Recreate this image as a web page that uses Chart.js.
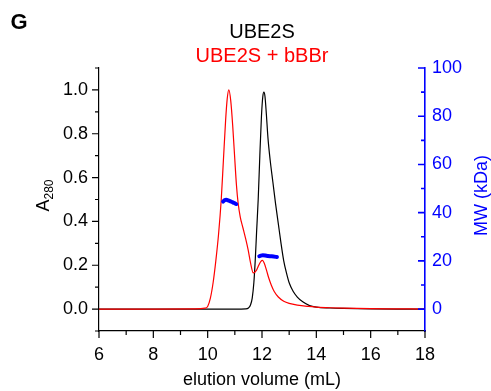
<!DOCTYPE html>
<html>
<head>
<meta charset="utf-8">
<script src="https://cdn.jsdelivr.net/npm/chart.js@4.4.1/dist/chart.umd.min.js"></script>
<style>
  html, body { margin: 0; padding: 0; background: #fff; }
  #wrap { width: 491px; height: 391px; position: relative; }
</style>
</head>
<body>
<div id="wrap"><canvas id="chart"></canvas></div>
<script>
const FONT = "'Liberation Sans', Arial, Helvetica, sans-serif";

// UBE2S (black trace)
const ube2sVolume = [6, 8, 10, 11, 11.4, 11.5, 11.58, 11.64, 11.7, 11.75, 11.8, 11.86, 11.92, 11.98, 12.03, 12.07, 12.11, 12.16, 12.22, 12.3, 12.4, 12.5, 12.6, 12.7, 12.8, 12.9, 13.0, 13.15, 13.3, 13.5, 13.75, 14.0, 14.5, 15.0, 16.0, 17.0, 18.0];
const ube2sA280 = [0, 0, 0, 0, 0.001, 0.005, 0.02, 0.05, 0.12, 0.22, 0.35, 0.5, 0.7, 0.88, 0.97, 0.99, 0.97, 0.89, 0.78, 0.68, 0.58, 0.48, 0.39, 0.3, 0.22, 0.165, 0.12, 0.08, 0.055, 0.033, 0.016, 0.009, 0.005, 0.003, 0.001, 0, 0];

// UBE2S + bBBr (red trace)
const bbbrVolume = [6, 8, 9.5, 9.9, 10.0, 10.1, 10.2, 10.3, 10.4, 10.5, 10.58, 10.66, 10.72, 10.78, 10.85, 10.92, 11.0, 11.06, 11.12, 11.2, 11.3, 11.4, 11.49, 11.58, 11.68, 11.8, 11.88, 11.96, 12.02, 12.08, 12.16, 12.24, 12.34, 12.45, 12.6, 12.8, 13.0, 13.3, 13.7, 14.0, 14.5, 15, 16, 17, 18];
const bbbrA280 = [0, 0, 0.001, 0.004, 0.012, 0.05, 0.12, 0.22, 0.34, 0.5, 0.68, 0.86, 0.96, 1.0, 0.95, 0.84, 0.68, 0.565, 0.485, 0.42, 0.37, 0.32, 0.27, 0.21, 0.165, 0.178, 0.2, 0.218, 0.222, 0.21, 0.18, 0.145, 0.11, 0.08, 0.055, 0.036, 0.026, 0.018, 0.012, 0.009, 0.006, 0.004, 0.002, 0.001, 0];

// MALS molar mass (blue, right axis)
const mwVolume1 = [10.57, 10.62, 10.68, 10.75, 10.82, 10.9, 10.98, 11.05];
const mwKDa1 = [44.6, 45.1, 45.3, 45.1, 44.8, 44.4, 44.0, 43.6];
const mwVolume2 = [11.9, 11.96, 12.03, 12.12, 12.22, 12.32, 12.43, 12.55];
const mwKDa2 = [21.9, 22.2, 22.3, 22.2, 22.0, 21.9, 21.8, 21.6];

const xTicks = [6, 8, 10, 12, 14, 16, 18];
const a280Ticks = [0, 0.2, 0.4, 0.6, 0.8, 1.0];
const mwTicks = [0, 20, 40, 60, 80, 100];

const pts = (xs, ys) => xs.map((x, i) => ({ x: x, y: ys[i] }));

// minor/major tick marks: left + bottom outward, right inward
const tickMarks = {
  id: "tickMarks",
  afterDraw(chart) {
    const ctx = chart.ctx;
    const { x, y, y2 } = chart.scales;
    ctx.save();
    ctx.lineWidth = 1.2;
    ctx.strokeStyle = "#000";
    ctx.beginPath();
    for (let v = 6; v <= 18; v++) {
      const px = x.getPixelForValue(v);
      const len = v % 2 === 0 ? 7 : 4;
      ctx.moveTo(px, y.bottom);
      ctx.lineTo(px, y.bottom + len);
    }
    for (let k = -1; k <= 11; k++) {
      const py = y.getPixelForValue(k / 10);
      const len = k % 2 === 0 ? 7 : 4;
      ctx.moveTo(x.left, py);
      ctx.lineTo(x.left - len, py);
    }
    ctx.stroke();
    ctx.strokeStyle = "#0000ff";
    ctx.lineWidth = 1.6;
    ctx.beginPath();
    for (let v = 0; v <= 100; v += 10) {
      const py = y2.getPixelForValue(v);
      const len = v % 20 === 0 ? 7 : 4;
      ctx.moveTo(x.right, py);
      ctx.lineTo(x.right - len, py);
    }
    ctx.stroke();

    // panel letter
    ctx.fillStyle = "#000";
    ctx.font = "bold 22px " + FONT;
    ctx.textAlign = "center";
    ctx.textBaseline = "middle";
    ctx.fillText("G", 19, 23);

    // left axis title A280 with subscript
    const midY = (y.top + y.bottom) / 2 - 4;
    ctx.save();
    ctx.translate(49, midY);
    ctx.rotate(-Math.PI / 2);
    ctx.textBaseline = "alphabetic";
    ctx.textAlign = "left";
    ctx.font = "18px " + FONT;
    const wA = ctx.measureText("A").width;
    ctx.font = "12px " + FONT;
    const wSub = ctx.measureText("280").width;
    const start = -(wA + wSub) / 2;
    ctx.font = "18px " + FONT;
    ctx.fillText("A", start, 0);
    ctx.font = "12px " + FONT;
    ctx.fillText("280", start + wA, 4);
    ctx.restore();

    // right axis title
    ctx.save();
    ctx.translate(482, midY);
    ctx.rotate(-Math.PI / 2);
    ctx.fillStyle = "#0000ff";
    ctx.font = "18px " + FONT;
    ctx.textAlign = "center";
    ctx.textBaseline = "middle";
    ctx.fillText("MW (kDa)", 0, 0);
    ctx.restore();
    ctx.restore();
  },
};

new Chart(document.getElementById("chart"), {
  type: "line",
  data: {
    datasets: [
      {
        label: "MW",
        data: pts(mwVolume1, mwKDa1),
        yAxisID: "y2",
        borderColor: "#0000ff",
        borderWidth: 4,
        borderCapStyle: "round",
        pointRadius: 0,
        tension: 0.3,
      },
      {
        label: "MW",
        data: pts(mwVolume2, mwKDa2),
        yAxisID: "y2",
        borderColor: "#0000ff",
        borderWidth: 4,
        borderCapStyle: "round",
        pointRadius: 0,
        tension: 0.3,
      },
      {
        label: "UBE2S + bBBr",
        data: pts(bbbrVolume, bbbrA280),
        yAxisID: "y",
        borderColor: "#ff0000",
        borderWidth: 1.2,
        pointRadius: 0,
        cubicInterpolationMode: "monotone",
      },
      {
        label: "UBE2S",
        data: pts(ube2sVolume, ube2sA280),
        yAxisID: "y",
        borderColor: "#000000",
        borderWidth: 1.2,
        pointRadius: 0,
        cubicInterpolationMode: "monotone",
      },
    ],
  },
  options: {
    responsive: true,
    maintainAspectRatio: false,
    animation: false,
    layout: { padding: 0 },
    plugins: {
      legend: { display: false },
      tooltip: { enabled: false },
      title: {
        display: true,
        text: "UBE2S",
        color: "#000",
        fullSize: false,
        font: { family: FONT, size: 20, weight: "normal", lineHeight: 1.2 },
        padding: { top: 20, bottom: 0 },
      },
      subtitle: {
        display: true,
        text: "UBE2S + bBBr",
        color: "#ff0000",
        fullSize: false,
        font: { family: FONT, size: 20, weight: "normal", lineHeight: 1.2 },
        padding: { top: 0, bottom: 0 },
      },
    },
    scales: {
      x: {
        type: "linear",
        min: 6,
        max: 18,
        afterBuildTicks: (s) => { s.ticks = xTicks.map((v) => ({ value: v })); },
        afterFit: (s) => { s.height = 60; },
        grid: { display: false, drawTicks: false },
        border: { display: true, color: "#000", width: 1.2 },
        ticks: { color: "#000", padding: 13, maxRotation: 0, font: { family: FONT, size: 18 } },
        title: {
          display: true,
          text: "elution volume (mL)",
          color: "#000",
          font: { family: FONT, size: 18 },
          padding: { top: 1, bottom: 0 },
        },
      },
      y: {
        type: "linear",
        position: "left",
        min: -0.1,
        max: 1.1,
        afterBuildTicks: (s) => { s.ticks = a280Ticks.map((v) => ({ value: v })); },
        afterFit: (s) => { s.width = 99; },
        grid: { display: false, drawTicks: false },
        border: { display: true, color: "#000", width: 1.2 },
        ticks: {
          color: "#000",
          padding: 11,
          font: { family: FONT, size: 18 },
          callback: (v) => Number(v).toFixed(1),
        },
      },
      y2: {
        type: "linear",
        position: "right",
        min: -100 / 11,
        max: 100,
        afterBuildTicks: (s) => { s.ticks = mwTicks.map((v) => ({ value: v })); },
        afterFit: (s) => { s.width = 66; },
        grid: { display: false, drawTicks: false },
        border: { display: true, color: "#0000ff", width: 1.6 },
        ticks: { color: "#0000ff", padding: 7, font: { family: FONT, size: 18 } },
      },
    },
  },
  plugins: [tickMarks],
});
</script>
</body>
</html>
